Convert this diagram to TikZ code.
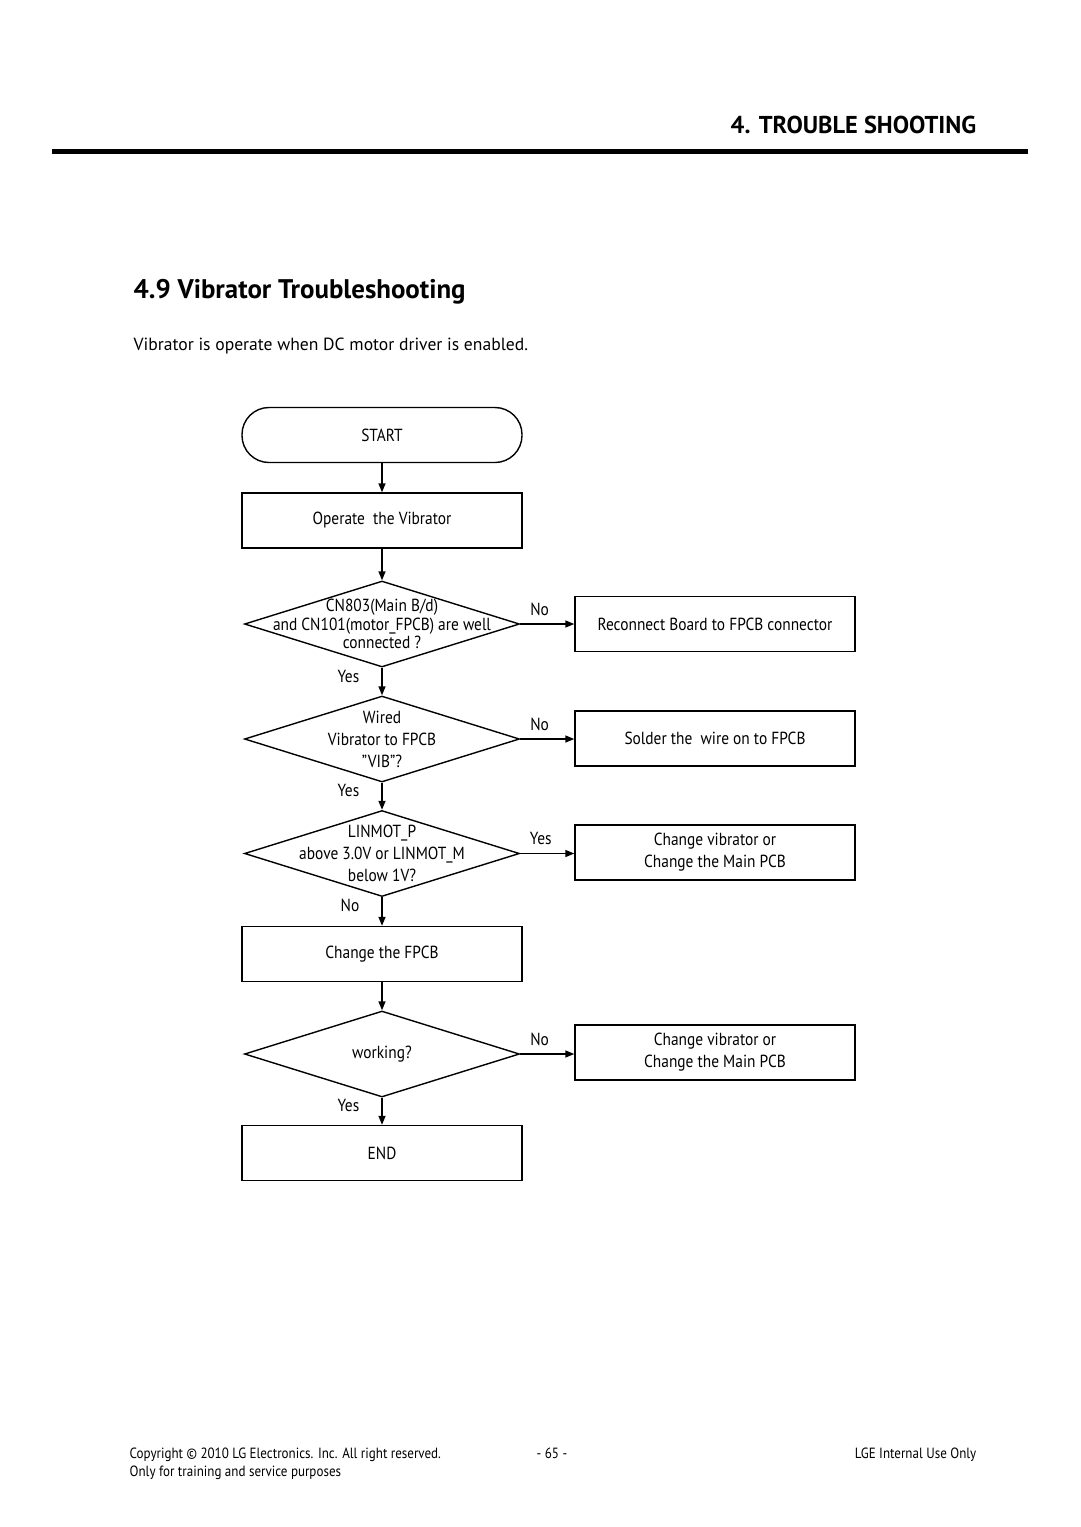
\documentclass[tikz,border=0pt]{standalone}
\usepackage{fontspec}
\setmainfont{PT Sans}
\newfontfamily\condf[FakeStretch=0.88]{PT Sans}
\usetikzlibrary{shapes.geometric,arrows.meta}
\begin{document}
\begin{tikzpicture}[x=1pt,y=-1pt,line width=1.4pt,
  >={Triangle[length=9pt,width=7pt]},
  box/.style={draw,rectangle,minimum width=280pt,minimum height=55pt,inner sep=0pt,align=center,font=\condf\fontsize{17.5}{22}\selectfont},
  term/.style={box,rounded corners=27pt},
  dec/.style={draw,diamond,minimum width=275pt,minimum height=86pt,inner sep=0pt},
  dtext/.style={align=center,inner sep=0pt,font=\condf\fontsize{17.5}{22}\selectfont},
  dtexttight/.style={align=center,inner sep=0pt,font=\condf\fontsize{17.5}{18.5}\selectfont},
  lbl/.style={inner sep=0pt,font=\condf\fontsize{17.5}{18}\selectfont},
  foot/.style={inner sep=0pt,font=\condf\fontsize{14.8}{18}\selectfont}]
\useasboundingbox (0,0) rectangle (1080,1527);
% header
\node[inner sep=0pt,anchor=base east,font=\bfseries\fontsize{24.4}{30}\selectfont] (hdr) at (977,133) {4. TROUBLE SHOOTING};
\draw[line width=5pt] (52,151) -- (1028,151);
\node[inner sep=0pt,anchor=base west,font=\bfseries\fontsize{26.9}{30}\selectfont] (ttl) at (133,298) {4.9 Vibrator Troubleshooting};
\node[inner sep=0pt,anchor=base west,font=\fontsize{17.6}{22}\selectfont] (intro) at (133,350) {Vibrator is operate when DC motor driver is enabled.};
% flow
\node[term] (start) at (382,435) {START};
\node[box] (op) at (382,520.5) {Operate\ \ the Vibrator};
\node[dec,label={[dtexttight]center:CN803(Main B/d)\\and CN101(motor\_FPCB) are well\\connected ?}] (d1) at (382,624) {};
\node[dec,label={[dtext]center:Wired\\Vibrator to FPCB\\\textquotedblright VIB\textquotedblright?}] (d2) at (382,739) {};
\node[dec,label={[dtext]center:LINMOT\_P\\above 3.0V or LINMOT\_M\\below 1V?}] (d3) at (382,853.5) {};
\node[box] (fpcb) at (382,954) {Change the FPCB};
\node[dec,label={[dtext]center:working?}] (d4) at (382,1054) {};
\node[box] (end) at (382,1153) {END};
\node[box] (r1) at (715,624) {Reconnect Board to FPCB connector};
\node[box] (r2) at (715,738.5) {Solder the\ \ wire on to FPCB};
\node[box] (r3) at (715,852.5) {Change vibrator or\\Change the Main PCB};
\node[box] (r4) at (715,1052.5) {Change vibrator or\\Change the Main PCB};
% connectors
\draw[->] (start.south) -- (op.north);
\draw[->] (op.south) -- (d1.north);
\draw[->] (d1.south) -- node[lbl,pos=0.3,anchor=east,xshift=-22pt] (y1) {Yes} (d2.north);
\draw[->] (d2.south) -- node[lbl,pos=0.3,anchor=east,xshift=-22pt] (y2) {Yes} (d3.north);
\draw[->] (d3.south) -- node[lbl,pos=0.3,anchor=east,xshift=-22pt] (n3) {No} (fpcb.north);
\draw[->] (fpcb.south) -- (d4.north);
\draw[->] (d4.south) -- node[lbl,pos=0.3,anchor=east,xshift=-22pt] (y4) {Yes} (end.north);
\draw[->] (d1.east) -- node[lbl,pos=0.36,anchor=south,yshift=8pt] (n1) {No} (d1.east -| r1.west);
\draw[->] (d2.east) -- node[lbl,pos=0.36,anchor=south,yshift=8pt] (n2) {No} (d2.east -| r2.west);
\draw[->] (d3.east) -- node[lbl,pos=0.38,anchor=south,yshift=8pt] (y3) {Yes} (d3.east -| r3.west);
\draw[->] (d4.east) -- node[lbl,pos=0.36,anchor=south,yshift=8pt] (n4) {No} (d4.east -| r4.west);
% footer
\node[foot,anchor=base west] (cp) at (129,1458) {Copyright \textcopyright\ 2010 LG Electronics. Inc. All right reserved.};
\node[foot,anchor=base west] (tr) at (129,1476) {Only for training and service purposes};
\node[foot,anchor=base] (pg) at (552,1458) {- 65 -};
\node[foot,anchor=base east] (lge) at (977,1458) {LGE Internal Use Only};
\end{tikzpicture}
\end{document}
